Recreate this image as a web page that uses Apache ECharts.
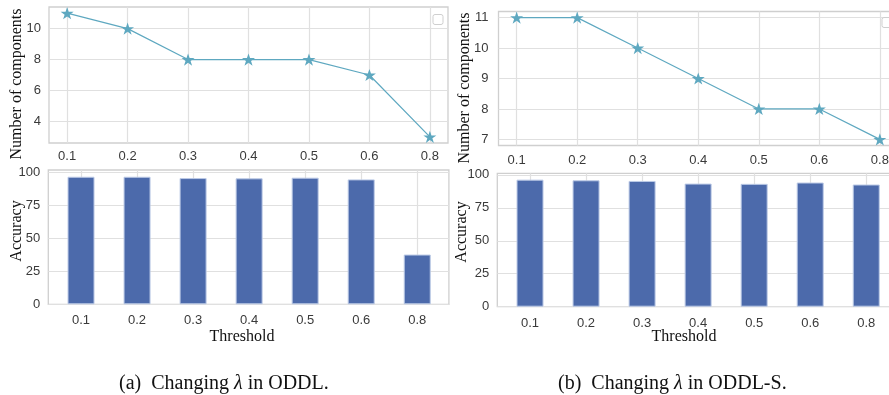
<!DOCTYPE html>
<html>
<head>
<meta charset="utf-8">
<script src="https://cdn.jsdelivr.net/npm/echarts@6/dist/echarts.min.js"></script>
<style>
html,body{margin:0;padding:0;background:#fff;overflow:hidden;width:889px;height:395px;}
#c{width:910px;height:395px;}
</style>
</head>
<body>
<div id="c"></div>
<script>
// ---- data ----
const categories = ['0.1', '0.2', '0.3', '0.4', '0.5', '0.6', '0.8'];
const componentsODDL = [11, 10, 8, 8, 8, 7, 3];
const componentsODDLS = [11, 11, 10, 9, 8, 8, 7];
const accuracyODDL = [96.4, 96.4, 95.4, 95.2, 95.7, 94.4, 37.6];
const accuracyODDLS = [96.4, 95.9, 95.4, 93.4, 93.2, 94.2, 92.7];
const compTicksODDL = [4, 6, 8, 10];
const compTicksODDLS = [7, 8, 9, 10, 11];
const accTicks = [0, 25, 50, 75, 100];
const yTitleTop = 'Number of components';
const yTitleBottom = 'Accuracy';
const xTitle = 'Threshold';
const captionA = ['(a)  Changing ', 'λ', ' in ODDL.'];
const captionB = ['(b)  Changing ', 'λ', ' in ODDL-S.'];

// ---- styling ----
const idx = categories.map((c, i) => i);
const lineColor = '#5ea8c0';
const barColor = '#4c6aab';
const gridLine = '#e0e0e0';
const frame = '#cfcfcf';
const tickFont = {fontSize: 13, color: '#3a3a3a', fontFamily: 'Liberation Sans, Arial, sans-serif'};
const star = 'path://M50,0 L61.8,35.1 L98.9,35.1 L69,56.9 L80.3,91.9 L50,70.2 L19.7,91.9 L31,56.9 L1.1,35.1 L38.2,35.1 Z';

function pairs(vals) { return vals.map((v, i) => [i, v]); }

function xAx(gridIndex, min, max, margin) {
  return {
    type: 'value', gridIndex, min, max,
    axisLine: {show: false},
    axisTick: {show: true, length: 0, customValues: idx},
    axisLabel: Object.assign({customValues: idx, margin, formatter: v => categories[Math.round(v)]}, tickFont),
    splitLine: {show: true, lineStyle: {color: gridLine, width: 1.2}}
  };
}
function yAx(gridIndex, min, max, ticks, margin) {
  return {
    type: 'value', gridIndex, min, max,
    axisLine: {show: false},
    axisTick: {show: true, length: 0, customValues: ticks},
    axisLabel: Object.assign({customValues: ticks, margin}, tickFont),
    splitLine: {show: true, lineStyle: {color: gridLine, width: 1.2}}
  };
}
const gridBase = {show: true, borderColor: frame, borderWidth: 1.3, backgroundColor: '#fff', containLabel: false};

const serifTitle = {fontFamily: 'Liberation Serif, Times New Roman, serif', fontSize: 16, fill: '#111'};
function vText(x, y, text) {
  return {type: 'text', x, y, rotation: Math.PI / 2,
    style: Object.assign({text, textAlign: 'center', textVerticalAlign: 'middle'}, serifTitle)};
}
function hText(x, y, text) {
  return {type: 'text', x, y,
    style: Object.assign({text, textAlign: 'center', textVerticalAlign: 'middle'}, serifTitle)};
}
function caption(x, y, parts) {
  return {type: 'text', x, y,
    style: {
      text: parts[0] + '{i|' + parts[1] + '}' + parts[2],
      textAlign: 'left', textVerticalAlign: 'middle',
      fontFamily: 'Liberation Serif, Times New Roman, serif', fontSize: 20, fill: '#111',
      rich: {i: {fontStyle: 'italic', fontFamily: 'Liberation Serif, Times New Roman, serif', fontSize: 20}}
    }};
}

const chart = echarts.init(document.getElementById('c'), null, {renderer: 'canvas'});
chart.setOption({
  animation: false,
  backgroundColor: '#fff',
  grid: [
    Object.assign({left: 49, top: 7, width: 399, height: 136}, gridBase),
    Object.assign({left: 498.5, top: 11.5, width: 399.5, height: 134}, gridBase),
    Object.assign({left: 48.3, top: 170, width: 400.6, height: 134.3}, gridBase),
    Object.assign({left: 497.3, top: 173.3, width: 400.6, height: 133.4}, gridBase)
  ],
  xAxis: [
    xAx(0, -0.3, 6.3, 7),
    xAx(1, -0.3, 6.3, 8),
    xAx(2, -0.584, 6.565, 10),
    xAx(3, -0.584, 6.565, 10)
  ],
  yAxis: [
    yAx(0, 2.6, 11.4, compTicksODDL, 8),
    yAx(1, 6.8, 11.2, compTicksODDLS, 10),
    yAx(2, 0, 101.5, accTicks, 8),
    yAx(3, 0, 101.2, accTicks, 8)
  ],
  series: [
    {type: 'line', xAxisIndex: 0, yAxisIndex: 0, data: pairs(componentsODDL),
      symbol: star, symbolSize: 13, symbolKeepAspect: true,
      lineStyle: {color: lineColor, width: 1.2}, itemStyle: {color: lineColor}},
    {type: 'line', xAxisIndex: 1, yAxisIndex: 1, data: pairs(componentsODDLS),
      symbol: star, symbolSize: 13, symbolKeepAspect: true,
      lineStyle: {color: lineColor, width: 1.2}, itemStyle: {color: lineColor}},
    {type: 'bar', xAxisIndex: 2, yAxisIndex: 2, data: pairs(accuracyODDL), barWidth: 27,
      itemStyle: {color: barColor, borderColor: '#bccae6', borderWidth: 1}},
    {type: 'bar', xAxisIndex: 3, yAxisIndex: 3, data: pairs(accuracyODDLS), barWidth: 27,
      itemStyle: {color: barColor, borderColor: '#bccae6', borderWidth: 1}}
  ],
  graphic: [
    {type: 'rect', shape: {x: 433, y: 14.5, width: 10, height: 10, r: 2},
      style: {fill: '#fff', stroke: '#cfcfcf', lineWidth: 1}, z: 100},
    {type: 'rect', shape: {x: 882, y: 17.5, width: 10, height: 10, r: 2},
      style: {fill: '#fff', stroke: '#cfcfcf', lineWidth: 1}, z: 100},
    vText(17, 84, yTitleTop),
    vText(465, 88, yTitleTop),
    vText(17, 231, yTitleBottom),
    vText(462, 232, yTitleBottom),
    hText(242, 337, xTitle),
    hText(684, 337, xTitle),
    caption(119, 384, captionA),
    caption(558, 384, captionB)
  ]
});
</script>
</body>
</html>
